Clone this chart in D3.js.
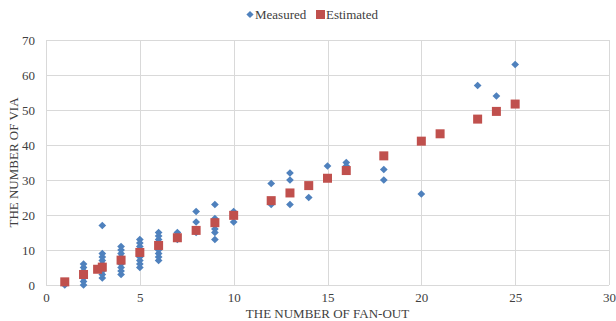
<!DOCTYPE html>
<html>
<head>
<meta charset="utf-8">
<script src="https://cdn.jsdelivr.net/npm/d3@7"></script>
<style>
  html, body { margin: 0; padding: 0; background: #fff; }
  svg { display: block; }
  svg text { font-family: "Liberation Serif", "DejaVu Serif", serif !important; fill: #404040; }
</style>
</head>
<body>
<svg id="chart" width="616" height="321"></svg>
<script>
// Fan-out vs. via count: measured samples and model estimate
const measuredX = [1,
  2,2,2,2,2,2,2,
  3,3,3,3,3,3,3,3,3,
  4,4,4,4,4,4,4,4,4,
  5,5,5,5,5,5,5,5,5,
  6,6,6,6,6,6,6,6,6,
  7,7,7,
  8,8,8,
  9,9,9,9,9,9,
  10,10,10,
  12,12,
  13,13,13,
  14,
  15,
  16,16,
  18,18,
  20,
  23,
  24,
  25];
const measuredY = [0,
  0,1,2,3,4,5,6,
  17,2,3,4,5,6,7,8,9,
  3,4,5,6,7,8,9,10,11,
  5,6,7,8,9,10,11,12,13,
  7,8,9,10,11,12,13,14,15,
  13,14,15,
  21,18,15,
  23,19,18,16,15,13,
  21,20,18,
  29,23,
  32,30,23,
  25,
  34,
  35,34,
  33,30,
  26,
  57,
  54,
  63];

const estimatedX = [1, 2, 2.75, 3, 4, 5, 6, 7, 8, 9, 10, 12, 13, 14, 15, 16, 18, 20, 21, 23, 24, 25];
const estimatedY = [0.9, 3.0, 4.5, 5.1, 7.1, 9.3, 11.3, 13.5, 15.6, 17.8, 19.9, 24.1, 26.3, 28.4, 30.5, 32.7, 36.9, 41.1, 43.2, 47.4, 49.6, 51.7];

const xTicks = [0, 5, 10, 15, 20, 25, 30];
const yTicks = [0, 10, 20, 30, 40, 50, 60, 70];
const seriesNames = ["Measured", "Estimated"];
const seriesColors = ["#4f81bd", "#c0504d"];

const svg = d3.select("#chart");
const margin = { left: 46, right: 7, top: 40, bottom: 36 };
const W = 616, H = 321;

const x = d3.scaleLinear().domain([0, 30]).range([margin.left, W - margin.right]);
const y = d3.scaleLinear().domain([0, 70]).range([H - margin.bottom, margin.top]);

// gridlines
const grid = svg.append("g");
grid.selectAll("line.h").data(yTicks).join("line")
  .attr("x1", x(0)).attr("x2", x(30))
  .attr("y1", d => Math.round(y(d)) + 0.5).attr("y2", d => Math.round(y(d)) + 0.5)
  .attr("stroke", "#d9d9d9").attr("stroke-width", 1);
grid.selectAll("line.v").data(xTicks).join("line")
  .attr("y1", y(0)).attr("y2", y(70))
  .attr("x1", d => Math.round(x(d)) + 0.5).attr("x2", d => Math.round(x(d)) + 0.5)
  .attr("stroke", "#d9d9d9").attr("stroke-width", 1);

// axes (labels only; lines come from the grid)
const xAxis = svg.append("g")
  .attr("transform", `translate(0,${y(0)})`)
  .call(d3.axisBottom(x).tickValues(xTicks).tickSize(0).tickPadding(8));
xAxis.select(".domain").remove();
xAxis.attr("font-family", null).attr("font-size", 13);

const yAxis = svg.append("g")
  .attr("transform", `translate(${x(0)},0)`)
  .call(d3.axisLeft(y).tickValues(yTicks).tickSize(0).tickPadding(11));
yAxis.select(".domain").remove();
yAxis.attr("font-family", null).attr("font-size", 13);

// axis titles
svg.append("text")
  .attr("x", (x(0) + x(30)) / 2).attr("y", 318)
  .attr("text-anchor", "middle").attr("font-size", 13)
  .text("THE NUMBER OF FAN-OUT");
svg.append("text")
  .attr("transform", `translate(18,${(y(0) + y(70)) / 2}) rotate(-90)`)
  .attr("text-anchor", "middle").attr("font-size", 13)
  .text("THE NUMBER OF VIA");

// measured series: diamonds
const measured = measuredX.map((d, i) => ({ x: d, y: measuredY[i] }));
svg.append("g").selectAll("path").data(measured).join("path")
  .attr("d", d3.symbol(d3.symbolSquare, 30)())
  .attr("transform", d => `translate(${x(d.x)},${y(d.y)}) rotate(45)`)
  .attr("fill", seriesColors[0]);

// estimated series: squares
const estimated = estimatedX.map((d, i) => ({ x: d, y: estimatedY[i] }));
svg.append("g").selectAll("rect").data(estimated).join("rect")
  .attr("x", d => x(d.x) - 4.5).attr("y", d => y(d.y) - 4.5)
  .attr("width", 9).attr("height", 9)
  .attr("fill", seriesColors[1]);

// legend
const legend = svg.append("g").attr("transform", "translate(250,14.5)");
legend.append("path")
  .attr("d", d3.symbol(d3.symbolSquare, 26)())
  .attr("transform", "rotate(45)")
  .attr("fill", seriesColors[0]);
legend.append("text").attr("x", 5).attr("y", 4.5).attr("font-size", 13).text(seriesNames[0]);
legend.append("rect").attr("x", 66).attr("y", -4.5).attr("width", 9).attr("height", 9).attr("fill", seriesColors[1]);
legend.append("text").attr("x", 76).attr("y", 4.5).attr("font-size", 13).text(seriesNames[1]);
</script>
</body>
</html>
